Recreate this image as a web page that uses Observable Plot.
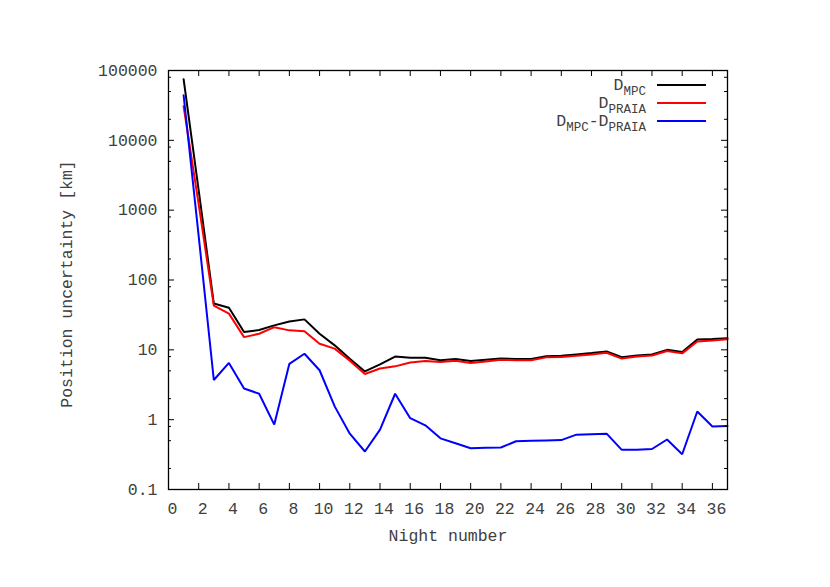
<!DOCTYPE html>
<html>
<head>
<meta charset="utf-8">
<script src="https://cdn.jsdelivr.net/npm/d3@7"></script>
<script src="https://cdn.jsdelivr.net/npm/@observablehq/plot@0.6"></script>
<style>
  html, body { margin: 0; padding: 0; background: #fff; }
  svg { display: block; }
</style>
</head>
<body>
<div id="chart"></div>
<script>
// ---- data ----
const nights = [1,2,3,4,5,6,7,8,9,10,11,12,13,14,15,16,17,18,19,20,21,22,23,24,25,26,27,28,29,30,31,32,33,34,35,36,37];
const dMPC = [75000,1900,46,40,18,19.2,22.4,25.5,27.3,17,11.6,7.45,4.9,6.2,8.0,7.7,7.7,7.1,7.4,6.9,7.2,7.5,7.4,7.4,8.1,8.2,8.6,9.0,9.5,7.85,8.3,8.6,10.0,9.3,14.1,14.3,14.7];
const dPRAIA = [30700,1200,43,33,15.2,17,21.1,19,18.5,12.2,10.4,7.0,4.5,5.4,5.8,6.6,6.9,6.7,7.0,6.5,6.8,7.2,7.1,7.1,7.8,7.9,8.2,8.6,9.1,7.5,8.0,8.3,9.6,8.9,13.2,13.6,14.2];
const dDiff = [44200,420,3.7,6.5,2.8,2.35,0.85,6.3,8.8,5.1,1.55,0.63,0.35,0.72,2.35,1.05,0.83,0.54,0.46,0.39,0.395,0.40,0.49,0.50,0.505,0.51,0.61,0.62,0.63,0.37,0.37,0.38,0.52,0.32,1.31,0.80,0.81];

const xTicks = [0,2,4,6,8,10,12,14,16,18,20,22,24,26,28,30,32,34,36];
const xTickLabels = ["0","2","4","6","8","10","12","14","16","18","20","22","24","26","28","30","32","34","36"];
const yTicks = [0.1,1,10,100,1000,10000,100000];
const yTickLabels = ["0.1","1","10","100","1000","10000","100000"];
const yMinorTicks = [0.2,0.5,0.8,2,5,8,20,50,80,200,500,800,2000,5000,8000,20000,50000,80000];

const seriesNames = ["MPC","PRAIA","DIFF"];
const seriesColors = ["#000000","#ff0000","#0000ff"];
const legendLabels = [
  [["D",false],["MPC",true]],
  [["D",false],["PRAIA",true]],
  [["D",false],["MPC",true],["-D",false],["PRAIA",true]]
];
const xLabel = "Night number";
const yLabel = "Position uncertainty [km]";

// ---- layout ----
const W = 830, H = 587;
const mL = 168, mR = 103, mT = 70, mB = 98;
const plotW = W - mL - mR, plotH = H - mT - mB;
const font = "'Liberation Mono', 'DejaVu Sans Mono', monospace";
const textColor = "#404040";

const rows = nights.map((n, i) => ({n, MPC: dMPC[i], PRAIA: dPRAIA[i], DIFF: dDiff[i]}));

const chart = Plot.plot({
  width: W, height: H,
  marginLeft: mL, marginRight: mR, marginTop: mT, marginBottom: mB,
  style: {fontFamily: font, fontSize: "16.5px", color: textColor, background: "#fff"},
  x: {type: "linear", domain: [0, 37], axis: null},
  y: {type: "log", domain: [0.1, 100000], axis: null},
  marks: [
    ...seriesNames.map((s, i) => Plot.line(rows, {x: "n", y: s, stroke: seriesColors[i], strokeWidth: 2, strokeLinejoin: "miter"})),
    // inward ticks, mirrored
    Plot.ruleX(xTicks, {insetTop: plotH - 6, stroke: "#000"}),
    Plot.ruleX(xTicks, {insetBottom: plotH - 6, stroke: "#000"}),
    Plot.ruleY(yTicks, {insetRight: plotW - 6, stroke: "#000"}),
    Plot.ruleY(yTicks, {insetLeft: plotW - 6, stroke: "#000"}),
    Plot.ruleY(yMinorTicks, {insetRight: plotW - 3, stroke: "#000"}),
    Plot.ruleY(yMinorTicks, {insetLeft: plotW - 3, stroke: "#000"}),
    Plot.frame({stroke: "#000", strokeWidth: 1.3}),
    // tick labels
    Plot.text(xTicks, {x: d => d, frameAnchor: "bottom", lineAnchor: "middle", dy: 19, dx: 4, text: (d, i) => xTickLabels[i], fill: textColor}),
    Plot.text(yTicks, {y: d => d, frameAnchor: "left", lineAnchor: "middle", dx: -11, textAnchor: "end", text: (d, i) => yTickLabels[i], fill: textColor}),
    // axis titles
    Plot.text([xLabel], {frameAnchor: "bottom", lineAnchor: "middle", textAnchor: "middle", dy: 46, text: d => d, fill: textColor}),
    Plot.text([yLabel], {frameAnchor: "left", lineAnchor: "middle", textAnchor: "middle", rotate: -90, dx: -102, dy: 4, text: d => d, fill: textColor})
  ]
});

document.getElementById("chart").appendChild(chart);

// ---- legend (top-right, inside frame) ----
const svg = d3.select(chart);
const lg = svg.append("g").attr("font-family", font).attr("fill", textColor);
const textRight = 646, lineX1 = 657, lineX2 = 706;
const baselines = [90, 108, 126];
legendLabels.forEach((parts, i) => {
  const t = lg.append("text")
    .attr("x", textRight).attr("y", baselines[i])
    .attr("text-anchor", "end").attr("font-size", 16.5);
  let shifted = false;
  parts.forEach(([str, sub]) => {
    const ts = t.append("tspan").text(str);
    if (sub && !shifted) { ts.attr("dy", 5).attr("font-size", 12.5); shifted = true; }
    else if (sub) { ts.attr("font-size", 12.5); }
    else if (!sub && shifted) { ts.attr("dy", -5); shifted = false; }
  });
  lg.append("line")
    .attr("x1", lineX1).attr("x2", lineX2)
    .attr("y1", baselines[i] - 5).attr("y2", baselines[i] - 5)
    .attr("stroke", seriesColors[i]).attr("stroke-width", 2);
});
</script>
</body>
</html>
